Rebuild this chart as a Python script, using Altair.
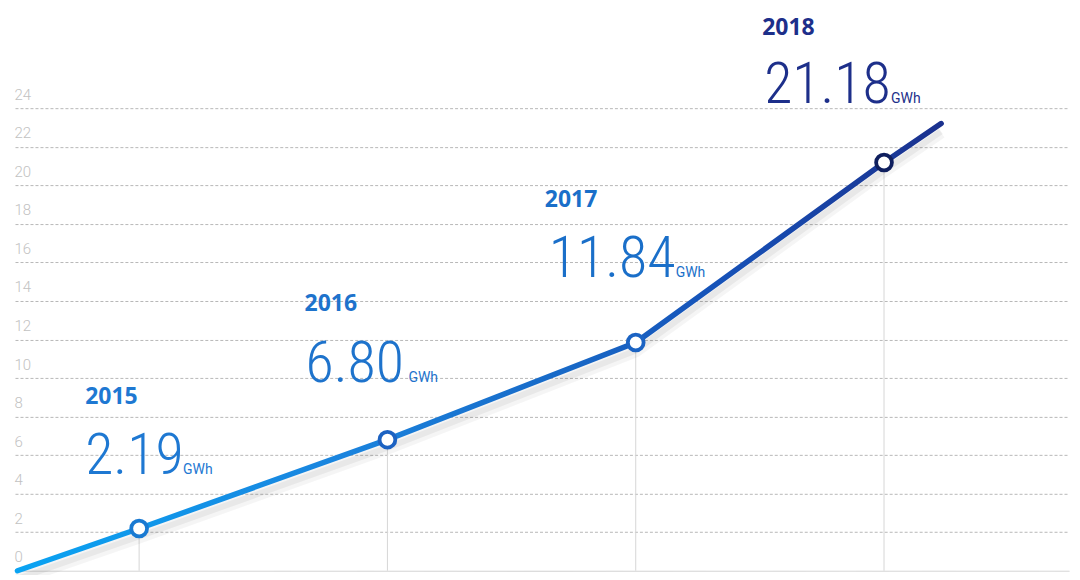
import altair as alt
import pandas as pd

# ---- data ----
years = [2015, 2016, 2017, 2018]
values = [2.19, 6.80, 11.84, 21.18]
value_labels = ["2.19", "6.80", "11.84", "21.18"]
year_labels = ["2015", "2016", "2017", "2018"]
unit_label = "GWh"
# trend line drawn through the yearly points, from the origin to past 2018
line_x = [2014.51, 2015, 2016, 2017, 2018, 2018.23]
line_y = [0.0, 2.19, 6.80, 11.84, 21.18, 23.2]
y_ticks = list(range(0, 25, 2))

# ---- styling ----
point_colors = ["#1a7ad2", "#1c62c2", "#1b63c3", "#0f1f5e"]
text_colors = ["#1e78d2", "#1e73cc", "#1a6fc9", "#1d2f8a"]
# (year dx, year dy, number dx, number dy, unit dx) relative to each point
label_offsets = [
    (-54, -125, -54, -55, 44),
    (-83, -129, -82, -58, 21),
    (-91, -136, -87, -66, 40),
    (-122, -128, -120, -60, 7),
]

pts = pd.DataFrame({"year": years, "value": values,
                    "vlabel": value_labels, "ylabel": year_labels})
line_df = pd.DataFrame({"x": line_x, "y": line_y})

xscale = alt.Scale(domain=[2014.5, 2018.745], nice=False, zero=False)
yscale = alt.Scale(domain=[0, 24], nice=False)

y_axis = alt.Axis(
    values=y_ticks, title=None, orient="left", ticks=False, domain=False,
    labelAlign="left", labelBaseline="alphabetic", labelPadding=1, labelOffset=-9,
    labelOverlap=False, labelBound=False, labelFlush=False,
    labelColor="#c2c2c2", labelFont="Roboto", labelFontWeight=300, labelFontSize=15,
    gridColor={"condition": {"test": "datum.value === 0", "value": "#cfcfcf"}, "value": "#b8b8b8"},
    gridDash={"condition": {"test": "datum.value === 0", "value": [1, 0]}, "value": [3, 2]},
    gridWidth=1,
)


def X(field):
    return alt.X(field, scale=xscale, axis=None)


def Y(field):
    return alt.Y(field, scale=yscale, axis=y_axis)


drops = alt.Chart(pts).mark_rule(color="#d6d6d6", strokeWidth=1).encode(
    x=X("year:Q"), y=Y("value:Q"), y2=alt.datum(0),
)

shadow1 = alt.Chart(line_df).mark_line(color="#000000", opacity=0.04, strokeWidth=12, yOffset=9).encode(
    x=X("x:Q"), y=Y("y:Q"))
shadow2 = alt.Chart(line_df).mark_line(color="#000000", opacity=0.05, strokeWidth=6, yOffset=8).encode(
    x=X("x:Q"), y=Y("y:Q"))

gradient = alt.Gradient(
    gradient="linear",
    stops=[
        alt.GradientStop(color="#0aa3f2", offset=0),
        alt.GradientStop(color="#1a84de", offset=0.35),
        alt.GradientStop(color="#1868c6", offset=0.6),
        alt.GradientStop(color="#1652b8", offset=0.76),
        alt.GradientStop(color="#1b318e", offset=1),
    ],
    x1=0, x2=1, y1=1, y2=1,
)
line = alt.Chart(line_df).mark_line(color=gradient, strokeWidth=5.5, strokeCap="round").encode(
    x=X("x:Q"), y=Y("y:Q"))

points = alt.Chart(pts).mark_point(filled=False, fill="white", fillOpacity=1, size=250, strokeWidth=3.8, opacity=1).encode(
    x=X("year:Q"), y=Y("value:Q"),
    stroke=alt.Color("year:O", scale=alt.Scale(domain=years, range=point_colors), legend=None),
)

labels = []
for i, yr in enumerate(years):
    ydx, ydy, ndx, ndy, udx = label_offsets[i]
    src = alt.Chart(pts).transform_filter(alt.datum.year == yr)
    enc = dict(x=X("year:Q"), y=Y("value:Q"))
    labels.append(src.mark_text(align="left", baseline="alphabetic", dx=ydx, dy=ydy,
                                font="Open Sans", fontWeight="bold", fontSize=23,
                                color=text_colors[i]).encode(text="ylabel:N", **enc))
    labels.append(src.mark_text(align="left", baseline="alphabetic", dx=ndx, dy=ndy,
                                font="Roboto Condensed, Liberation Sans Narrow, DejaVu Sans Condensed, Roboto",
                                fontWeight=300, fontSize=58,
                                color=text_colors[i]).encode(text="vlabel:N", **enc))
    labels.append(src.mark_text(align="left", baseline="alphabetic", dx=udx, dy=ndy,
                                font="Roboto", fontSize=14,
                                color=text_colors[i], text=unit_label).encode(**enc))

chart = alt.layer(drops, shadow1, shadow2, line, points, *labels).properties(
    width=1055, height=463,
    padding={"left": 7, "top": 100, "right": 3, "bottom": 4},
    autosize="none",
    background="white",
).configure_view(strokeWidth=0)

chart.save("out.html", embed_options={"renderer": "svg", "actions": False})
